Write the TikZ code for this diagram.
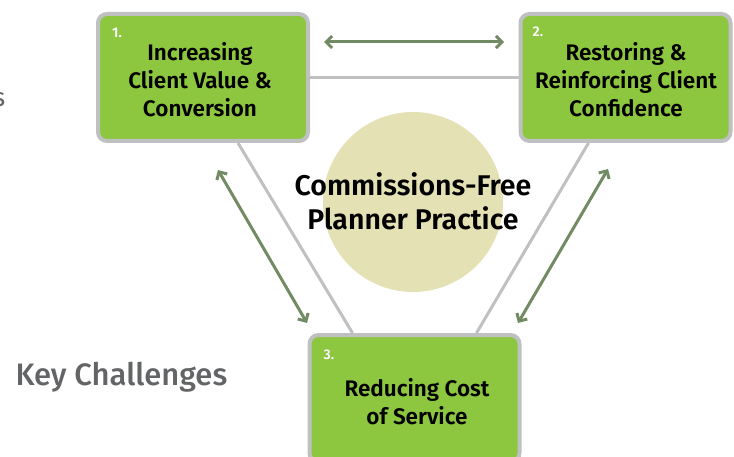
\documentclass[tikz,border=0pt]{standalone}
\usepackage{fontspec}
\setmainfont{Fira Sans}[BoldFont={Fira Sans SemiBold}]
\newfontfamily\keyfont{Fira Sans Medium}
\usepackage{xcolor}
\usepackage{tikz}
\usetikzlibrary{arrows.meta}
\usetikzlibrary{backgrounds}
\definecolor{boxgreen}{HTML}{8DC63F}
\definecolor{boxgray}{HTML}{BFC0C2}
\definecolor{arrowgreen}{HTML}{728B64}
\definecolor{coregold}{HTML}{E4E1B5}
\definecolor{keygray}{HTML}{636466}
\tikzset{
  goalbox/.style={draw=boxgray, line width=4pt, fill=boxgreen, rounded corners=9pt,
    minimum width=210pt, minimum height=127pt},
  goaltext/.style={align=center, font=\bfseries\fontsize{22.5}{28}\selectfont},
  goalnum/.style={text=white, font=\bfseries\fontsize{14}{16}\selectfont},
  link/.style={draw=boxgray, line width=3pt},
  twoway/.style={draw=arrowgreen, line width=3pt, {Straight Barb[length=6pt,width=12pt]}-{Straight Barb[length=6pt,width=12pt]}}
}
\begin{document}
\begin{tikzpicture}[x=1pt,y=-1pt]
	\useasboundingbox (0,0) rectangle (734,457);
	\node[fill=coregold, circle, minimum size=180pt] (core) at (413,202) {};
	\node (b1) [goalbox] at (203,77.5) {};
	\node (b2) [goalbox] at (625.5,77.5) {};
	\node (b3) [goalbox] at (414.5,398.5) {};
	% triangle behind the boxes
	\begin{pgfonlayer}{background}
	\draw[link] (b1.east) -- (b2.west);
	\draw[link] ([xshift=35pt]b1.south) -- ([xshift=-62pt]b3.north);
	\draw[link] ([xshift=-37pt]b2.south) -- ([xshift=62pt]b3.north);
	\end{pgfonlayer}
	\node (t1) [goaltext] at (200,80) {Increasing\\Client Value \&\\Conversion};
	\node (t2) [goaltext] at (626,80) {Restoring \&\\Reinforcing Client\\Confidence};
	\node (t3) [goaltext] at (417,402) {Reducing Cost\\of Service};
	\node (n1) [goalnum] at (117,33) {1.};
	\node (n2) [goalnum] at (538,32) {2.};
	\node (n3) [goalnum] at (329,355) {3.};
	\node (ct) [align=center, font=\bfseries\fontsize{28.5}{34}\selectfont] at (413,201) {Commissions-Free\\Planner Practice};
	\node (key) [anchor=base west, text=keygray, font=\keyfont\fontsize{31}{34}\selectfont] at (12,385) {Key Challenges};
	\node (cut) [anchor=base west, text=keygray, font=\fontsize{26}{28}\selectfont, inner sep=0pt] at (-7,107) {s};
	\coordinate (a1) at (324,42);
	\coordinate (a2) at (504,42);
	\coordinate (a3) at (218,170);
	\coordinate (a4) at (307,323);
	\coordinate (a5) at (608,169);
	\coordinate (a6) at (518,323);
	\draw[twoway] (a1) -- (a2);
	\draw[twoway] (a3) -- (a4);
	\draw[twoway] (a5) -- (a6);
\end{tikzpicture}
\end{document}
